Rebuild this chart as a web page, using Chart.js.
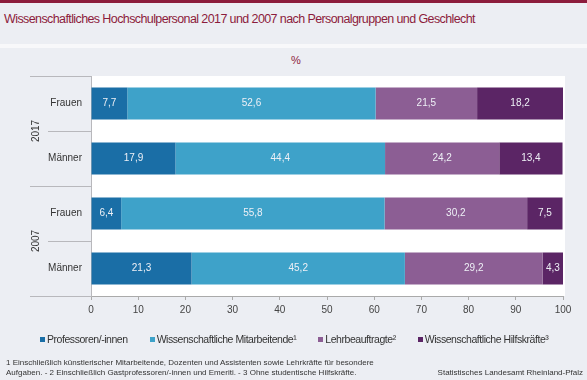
<!DOCTYPE html>
<html><head><meta charset="utf-8">
<script src="https://cdn.jsdelivr.net/npm/chart.js@4/dist/chart.umd.min.js"></script>
<style>
html,body{margin:0;padding:0;}
body{width:587px;height:380px;background:#eceef3;position:relative;overflow:hidden;font-family:Arial,"Liberation Sans",sans-serif;}
#topbar{position:absolute;left:0;top:0;width:587px;height:3px;background:#8c1c3c;}
#title{position:absolute;left:4px;top:12px;font-size:12.5px;color:#8c1c3c;white-space:nowrap;letter-spacing:-0.6px;}
#sep{position:absolute;left:0;top:44px;width:587px;height:4px;background:#f8f8fa;}
#unit{position:absolute;left:286px;top:54px;width:20px;text-align:center;font-size:11px;color:#8c1c3c;}
#c{position:absolute;left:0;top:0;}
#legend{position:absolute;left:40px;top:333px;font-size:10.5px;letter-spacing:-0.45px;color:#333;white-space:nowrap;}
#legend span.item{margin-right:22px;}
#legend span.sw{display:inline-block;width:5px;height:5px;margin-right:2px;vertical-align:1px;}
#foot{position:absolute;left:6px;top:358px;font-size:8px;color:#333;line-height:10px;white-space:nowrap;}
#src{position:absolute;right:4px;top:368px;font-size:8px;color:#333;line-height:10px;}
</style></head>
<body>
<div id="topbar"></div>
<div id="title">Wissenschaftliches Hochschulpersonal 2017 und 2007 nach Personalgruppen und Geschlecht</div>
<div id="sep"></div>
<div id="unit">%</div>
<canvas id="c" width="587" height="380"></canvas>
<div id="legend"></div>
<div id="foot">1 Einschließlich künstlerischer Mitarbeitende, Dozenten und Assistenten sowie Lehrkräfte für besondere<br>Aufgaben. - 2 Einschließlich Gastprofessoren/-innen und Emeriti. - 3 Ohne studentische Hilfskräfte.</div>
<div id="src">Statistisches Landesamt Rheinland-Pfalz</div>
<script>
const categories = ["Frauen", "Männer", "Frauen", "Männer"];
const years = ["2017", "2007"];
const seriesNames = ["Professoren/-innen", "Wissenschaftliche Mitarbeitende¹", "Lehrbeauftragte²", "Wissenschaftliche Hilfskräfte³"];
const professoren = [7.7, 17.9, 6.4, 21.3];
const mitarbeitende = [52.6, 44.4, 55.8, 45.2];
const lehrbeauftragte = [21.5, 24.2, 30.2, 29.2];
const hilfskraefte = [18.2, 13.4, 7.5, 4.3];
const xTicks = [0, 10, 20, 30, 40, 50, 60, 70, 80, 90, 100];
const seriesColors = ["#1a6ea6", "#3ea2c9", "#8c5e94", "#5b2565"];

const seriesData = [professoren, mitarbeitende, lehrbeauftragte, hilfskraefte];

const lg = document.getElementById('legend');
seriesNames.forEach((n, i) => {
  const it = document.createElement('span');
  it.className = 'item';
  const sw = document.createElement('span');
  sw.className = 'sw';
  sw.style.background = seriesColors[i];
  it.appendChild(sw);
  it.appendChild(document.createTextNode(n));
  lg.appendChild(it);
});

const FONT = 'Arial, "Liberation Sans", sans-serif';

const decorPlugin = {
  id: 'decor',
  beforeDraw(chart) {
    const a = chart.chartArea, ctx = chart.ctx;
    ctx.save();
    ctx.fillStyle = '#ffffff';
    ctx.fillRect(a.left, a.top, a.right - a.left + 2, a.bottom - a.top);
    ctx.restore();
  },
  afterDraw(chart) {
    const ctx = chart.ctx, y = chart.scales.y, a = chart.chartArea;
    const band = (y.getPixelForValue(1) - y.getPixelForValue(0));
    ctx.save();
    ctx.strokeStyle = '#b8b8bc';
    ctx.lineWidth = 1;
    for (let i = 0; i <= categories.length; i++) {
      const py = Math.round(y.getPixelForValue(i) - band / 2) + 0.5;
      const x0 = (i % 2 === 0) ? 30 : 48;
      ctx.beginPath();
      ctx.moveTo(x0, py);
      ctx.lineTo(a.left, py);
      ctx.stroke();
    }
    ctx.fillStyle = '#333';
    ctx.font = '10px ' + FONT;
    ctx.textAlign = 'center';
    ctx.textBaseline = 'middle';
    years.forEach((yr, g) => {
      const cy = (y.getPixelForValue(g * 2) + y.getPixelForValue(g * 2 + 1)) / 2;
      ctx.save();
      ctx.translate(36, cy);
      ctx.rotate(-Math.PI / 2);
      ctx.fillText(yr, 0, 0);
      ctx.restore();
    });
    ctx.fillStyle = '#eef0f6';
    ctx.font = '10px ' + FONT;
    chart.data.datasets.forEach((ds, di) => {
      const meta = chart.getDatasetMeta(di);
      meta.data.forEach((el, i) => {
        const v = ds.data[i];
        const cx = (el.x + el.base) / 2;
        ctx.fillText(String(v).replace('.', ','), cx, el.y);
      });
    });
    ctx.restore();
  }
};

new Chart(document.getElementById('c'), {
  type: 'bar',
  data: {
    labels: categories,
    datasets: seriesNames.map((n, i) => ({
      label: n,
      data: seriesData[i],
      backgroundColor: seriesColors[i],
      borderWidth: 0,
      barPercentage: 0.582,
      categoryPercentage: 1.0
    }))
  },
  options: {
    indexAxis: 'y',
    responsive: false,
    animation: false,
    layout: { padding: { top: 76, right: 24, left: 0, bottom: 0 } },
    plugins: { legend: { display: false }, tooltip: { enabled: false } },
    scales: {
      x: {
        stacked: true, min: 0, max: 100,
        afterBuildTicks(s) { s.ticks = xTicks.map(v => ({ value: v })); },
        afterFit(s) { s.height = 84; },
        ticks: { color: '#444', font: { size: 10, family: FONT }, padding: 4, maxRotation: 0 },
        grid: { display: true, drawOnChartArea: false, drawTicks: true, tickLength: 4, color: '#aaaaaa' },
        border: { display: true, color: '#aaaaaa' }
      },
      y: {
        stacked: true,
        afterFit(s) { s.width = 91; },
        ticks: { color: '#333', font: { size: 10, family: FONT }, padding: 9 },
        grid: { display: false, drawTicks: false },
        border: { display: true, color: '#b8b8bc' }
      }
    }
  },
  plugins: [decorPlugin]
});
</script>
</body></html>
